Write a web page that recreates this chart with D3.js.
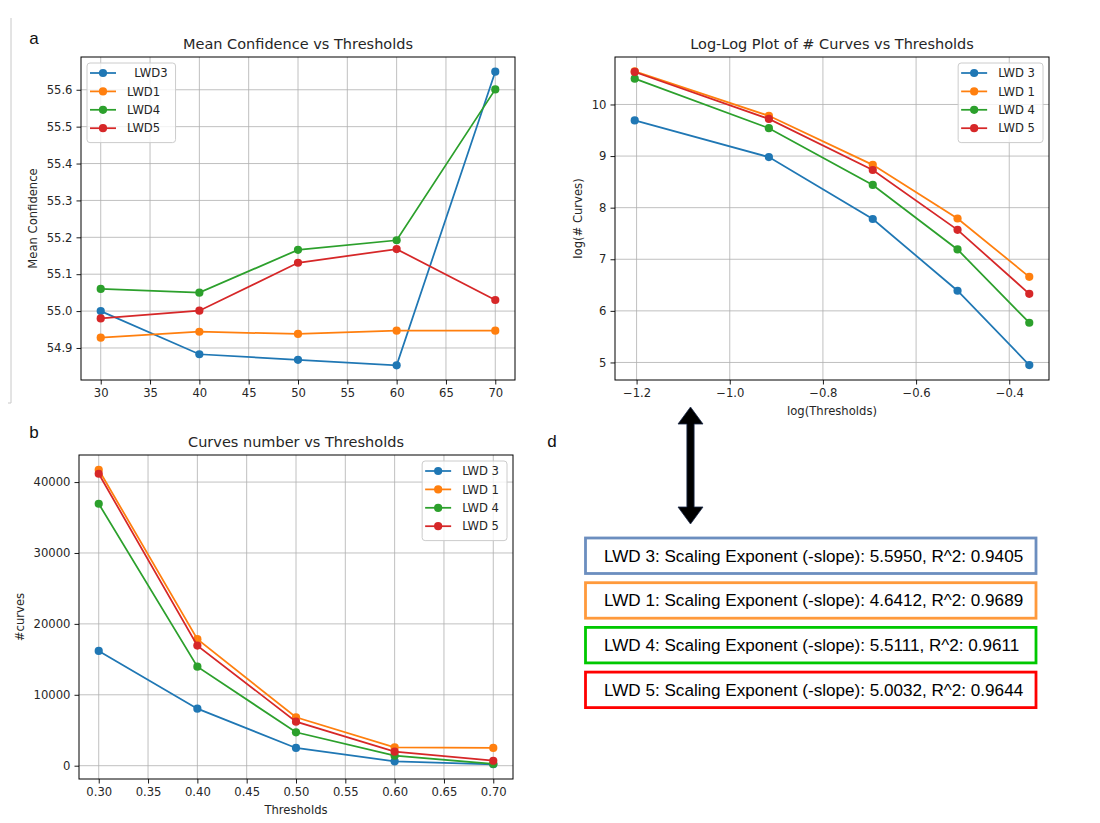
<!DOCTYPE html>
<html>
<head>
<meta charset="utf-8">
<script src="https://cdn.jsdelivr.net/npm/d3@7"></script>
<style>
  html, body { margin: 0; padding: 0; background: #fff; }
  svg { display: block; }
</style>
</head>
<body>
<svg id="chart" width="1100" height="823"></svg>
<script>
// ---------------- DATA ----------------
const seriesColors = ["#1f77b4", "#ff7f0e", "#2ca02c", "#d62728"];
const seriesNames = ["LWD 3", "LWD 1", "LWD 4", "LWD 5"];
const legendNamesA = ["  LWD3", "LWD1", "LWD4", "LWD5"];

// Panel a: Mean Confidence vs Thresholds
const thresholdsPct = [30, 40, 50, 60, 70];
const confLWD3 = [55.000, 54.883, 54.868, 54.853, 55.649];
const confLWD1 = [54.928, 54.944, 54.938, 54.947, 54.947];
const confLWD4 = [55.060, 55.050, 55.166, 55.192, 55.601];
const confLWD5 = [54.980, 55.001, 55.131, 55.168, 55.030];
const ticksA_x = [30, 35, 40, 45, 50, 55, 60, 65, 70];
const ticksA_y = [54.9, 55.0, 55.1, 55.2, 55.3, 55.4, 55.5, 55.6];

// Panel c: Log-Log plot
const logThresholds = [-1.204, -0.916, -0.693, -0.511, -0.357];
const logLWD3 = [9.69, 8.98, 7.78, 6.39, 4.95];
const logLWD1 = [10.64, 9.78, 8.83, 7.79, 6.66];
const logLWD4 = [10.50, 9.54, 8.44, 7.19, 5.77];
const logLWD5 = [10.63, 9.72, 8.73, 7.57, 6.33];
const ticksC_x = [-1.2, -1.0, -0.8, -0.6, -0.4];
const ticksC_y = [5, 6, 7, 8, 9, 10];

// Panel b: Curves number vs Thresholds
const thresholds = [0.30, 0.40, 0.50, 0.60, 0.70];
const curvesLWD3 = [16190, 8045, 2500, 620, 200];
const curvesLWD1 = [41740, 17840, 6830, 2590, 2500];
const curvesLWD4 = [36940, 13970, 4710, 1410, 240];
const curvesLWD5 = [41170, 16940, 6210, 1980, 700];
const ticksB_x = [0.30, 0.35, 0.40, 0.45, 0.50, 0.55, 0.60, 0.65, 0.70];
const ticksB_y = [0, 10000, 20000, 30000, 40000];

// Panel d: scaling exponents
const exponents = ["5.5950", "4.6412", "5.5111", "5.0032"];
const rSquared = ["0.9405", "0.9689", "0.9611", "0.9644"];
const boxColors = ["#6c8ebf", "#ff9a3c", "#00c800", "#ff0000"];

// ---------------- DRAW ----------------
const svg = d3.select("#chart");
const FS = 11.6;
const MPL_FONT = "'DejaVu Sans', sans-serif";
const ARIAL = "'Liberation Sans', Arial, sans-serif";

function margin(lo, hi) { const r = hi - lo; return [lo - 0.05 * r, hi + 0.05 * r]; }

function panel(cfg) {
  const g = svg.append("g").style("font-family", MPL_FONT);
  const x = d3.scaleLinear().domain(cfg.xdom).range([cfg.left, cfg.right]);
  const y = d3.scaleLinear().domain(cfg.ydom).range([cfg.bottom, cfg.top]);

  // grid
  g.append("g").selectAll("line").data(cfg.xticks).join("line")
    .attr("x1", d => x(d)).attr("x2", d => x(d))
    .attr("y1", cfg.top).attr("y2", cfg.bottom)
    .attr("stroke", "#b0b0b0").attr("stroke-width", 0.8);
  g.append("g").selectAll("line").data(cfg.yticks).join("line")
    .attr("y1", d => y(d)).attr("y2", d => y(d))
    .attr("x1", cfg.left).attr("x2", cfg.right)
    .attr("stroke", "#b0b0b0").attr("stroke-width", 0.8);

  // series
  cfg.series.forEach((vals, i) => {
    const pts = cfg.xs.map((xv, j) => [xv, vals[j]]);
    g.append("path").datum(pts)
      .attr("fill", "none").attr("stroke", seriesColors[i]).attr("stroke-width", 1.75)
      .attr("d", d3.line().x(d => x(d[0])).y(d => y(d[1])));
    g.append("g").selectAll("circle").data(pts).join("circle")
      .attr("cx", d => x(d[0])).attr("cy", d => y(d[1])).attr("r", 4.1)
      .attr("fill", seriesColors[i]);
  });

  // axes
  const xa = g.append("g").attr("transform", `translate(0,${cfg.bottom})`)
    .call(d3.axisBottom(x).tickValues(cfg.xticks).tickFormat(d3.format(cfg.xfmt)).tickSize(4.5).tickPadding(4).tickSizeOuter(0));
  const ya = g.append("g").attr("transform", `translate(${cfg.left},0)`)
    .call(d3.axisLeft(y).tickValues(cfg.yticks).tickFormat(d3.format(cfg.yfmt)).tickSize(4.5).tickPadding(4).tickSizeOuter(0));
  [xa, ya].forEach(a => {
    a.attr("font-family", null).attr("font-size", null);
    a.select(".domain").remove();
    a.selectAll("line").attr("stroke", "#000").attr("stroke-width", 0.9);
    a.selectAll("text").style("font-family", MPL_FONT).style("font-size", FS + "px").attr("fill", "#262626");
  });
  // frame
  g.append("rect").attr("x", cfg.left).attr("y", cfg.top)
    .attr("width", cfg.right - cfg.left).attr("height", cfg.bottom - cfg.top)
    .attr("fill", "none").attr("stroke", "#000").attr("stroke-width", 1);

  // title & labels
  const cx = (cfg.left + cfg.right) / 2;
  g.append("text").attr("x", cx).attr("y", cfg.top - 8).attr("text-anchor", "middle")
    .style("font-size", "14.5px").attr("fill", "#262626").text(cfg.title);
  if (cfg.xlabel) g.append("text").attr("x", cx).attr("y", cfg.bottom + 35)
    .attr("text-anchor", "middle").style("font-size", FS + "px").attr("fill", "#262626").text(cfg.xlabel);
  if (cfg.ylabel) g.append("text")
    .attr("transform", `translate(${cfg.ylabelX},${(cfg.top + cfg.bottom) / 2}) rotate(-90)`)
    .attr("text-anchor", "middle").style("font-size", FS + "px").attr("fill", "#262626").text(cfg.ylabel);

  // legend
  const lg = g.append("g");
  const rowH = 18.4;
  const items = lg.selectAll("g").data(cfg.legend).join("g");
  const texts = items.append("text").style("font-size", FS + "px").attr("fill", "#262626")
    .style("white-space", "pre").attr("xml:space", "preserve")
    .text(d => d);
  let maxW = 0;
  texts.each(function () { maxW = Math.max(maxW, this.getComputedTextLength()); });
  const w = 40 + maxW + 8, h = rowH * 4 + 6;
  const lx = cfg.legendPos === "left" ? cfg.left + 6 : cfg.right - 6 - w;
  const ly = cfg.top + 6;
  lg.insert("rect", ":first-child").attr("x", lx).attr("y", ly).attr("width", w).attr("height", h)
    .attr("rx", 3).attr("fill", "#fff").attr("fill-opacity", 0.8)
    .attr("stroke", "#cccccc").attr("stroke-width", 1);
  items.each(function (d, i) {
    const it = d3.select(this);
    const yy = ly + 10 + i * rowH;
    it.append("line").attr("x1", lx + 3).attr("x2", lx + 29).attr("y1", yy).attr("y2", yy)
      .attr("stroke", seriesColors[i]).attr("stroke-width", 1.75);
    it.append("circle").attr("cx", lx + 16).attr("cy", yy).attr("r", 4.1).attr("fill", seriesColors[i]);
    it.select("text").attr("x", lx + 40).attr("y", yy + 4.2);
  });
}

// Panel a
panel({
  left: 81, right: 515, top: 57, bottom: 380,
  xdom: margin(30, 70), ydom: margin(54.853, 55.649),
  xticks: ticksA_x, yticks: ticksA_y, xfmt: "d", yfmt: ".1f",
  xs: thresholdsPct, series: [confLWD3, confLWD1, confLWD4, confLWD5],
  title: "Mean Confidence vs Thresholds", xlabel: null,
  ylabel: "Mean Confidence", ylabelX: 37,
  legend: legendNamesA, legendPos: "left"
});

// Panel c (log-log)
panel({
  left: 615, right: 1049, top: 57, bottom: 380,
  xdom: margin(-1.204, -0.357), ydom: [4.66, 10.92],
  xticks: ticksC_x, yticks: ticksC_y, xfmt: ".1f", yfmt: "d",
  xs: logThresholds, series: [logLWD3, logLWD1, logLWD4, logLWD5],
  title: "Log-Log Plot of # Curves vs Thresholds", xlabel: "log(Thresholds)",
  ylabel: "log(# Curves)", ylabelX: 582,
  legend: seriesNames, legendPos: "right"
});

// Panel b
panel({
  left: 79, right: 513, top: 455, bottom: 779,
  xdom: margin(0.30, 0.70), ydom: margin(200, 41740),
  xticks: ticksB_x, yticks: ticksB_y, xfmt: ".2f", yfmt: "d",
  xs: thresholds, series: [curvesLWD3, curvesLWD1, curvesLWD4, curvesLWD5],
  title: "Curves number vs Thresholds", xlabel: "Thresholds",
  ylabel: "#curves", ylabelX: 24,
  legend: seriesNames, legendPos: "right"
});

// panel letters
[["a", 34, 44], ["b", 34, 438], ["d", 552, 447]].forEach(([t, px, py]) => {
  svg.append("text").attr("x", px).attr("y", py).attr("text-anchor", "middle")
    .style("font-family", ARIAL).style("font-size", "17px")
    .attr("fill", "#111").text(t);
});

// thin border line left of panel a
svg.append("path").attr("d", "M11,18 L11,403 L8,403")
  .attr("fill", "none").attr("stroke", "#c8c8c8").attr("stroke-width", 1);

// double-headed arrow
const ax = 690.5, aTop = 407, aBot = 524, headH = 17, headW = 12.5, shaftW = 3.6;
svg.append("path")
  .attr("d", `M${ax},${aTop} L${ax + headW},${aTop + headH} L${ax + shaftW},${aTop + headH}
    L${ax + shaftW},${aBot - headH} L${ax + headW},${aBot - headH} L${ax},${aBot}
    L${ax - headW},${aBot - headH} L${ax - shaftW},${aBot - headH} L${ax - shaftW},${aTop + headH}
    L${ax - headW},${aTop + headH} Z`)
  .attr("fill", "#000").attr("stroke", "#1a2a4a").attr("stroke-width", 0.8);

// scaling exponent boxes
const boxG = svg.append("g");
const bx = 585.5, bw = 450.5, bh = 35.5, by0 = 538, bstep = 44.7;
seriesNames.forEach((name, i) => {
  const top = by0 + i * bstep;
  boxG.append("rect").attr("x", bx).attr("y", top).attr("width", bw).attr("height", bh)
    .attr("fill", "#fff").attr("stroke", boxColors[i]).attr("stroke-width", 2.8);
  boxG.append("text").attr("x", 604).attr("y", top + 23.5)
    .style("font-family", ARIAL).style("font-size", "17.1px")
    .attr("fill", "#000")
    .text(`${name}: Scaling Exponent (-slope): ${exponents[i]}, R^2: ${rSquared[i]}`);
});
</script>
</body>
</html>
